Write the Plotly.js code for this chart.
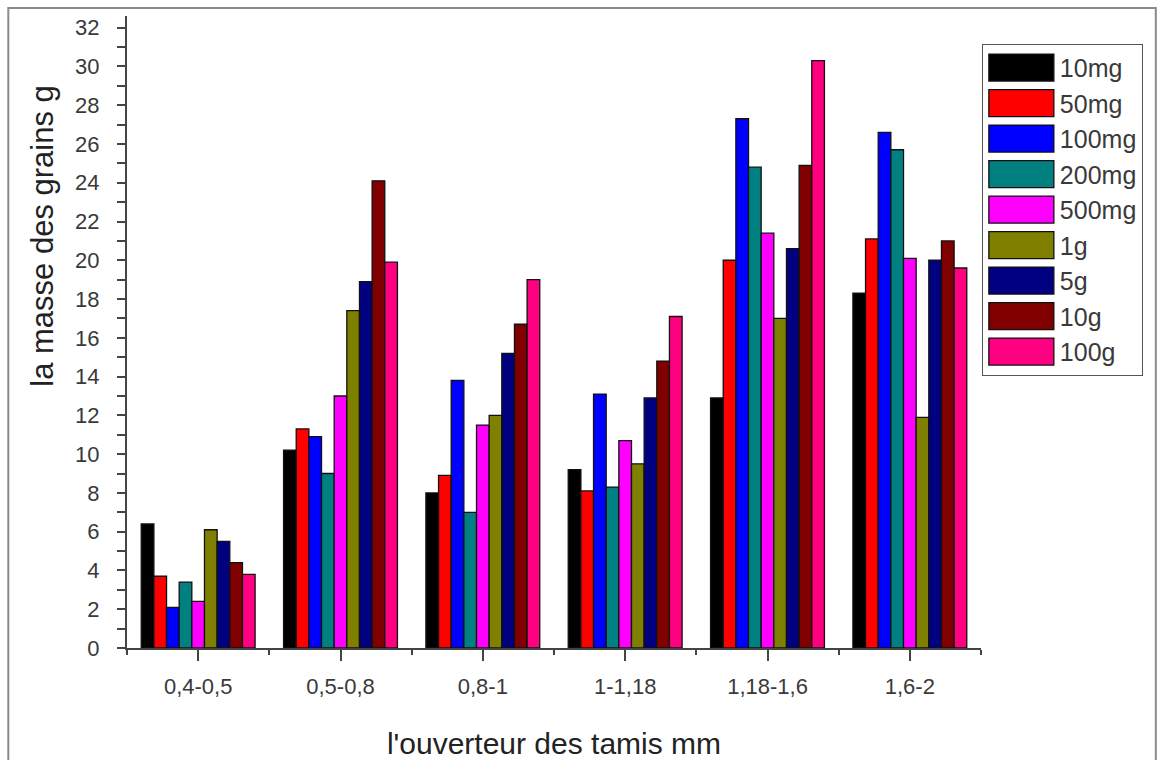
<!DOCTYPE html>
<html>
<head>
<meta charset="utf-8">
<script src="https://cdn.plot.ly/plotly-3.0.1.min.js"></script>
<style>
  html, body { margin: 0; padding: 0; background: #ffffff; }
  #chart { width: 1161px; height: 760px; }
</style>
</head>
<body>
<div id="chart"></div>
<script>
// ---- Data ----
var categories = ["0,4-0,5", "0,5-0,8", "0,8-1", "1-1,18", "1,18-1,6", "1,6-2"];
var seriesNames = ["10mg", "50mg", "100mg", "200mg", "500mg", "1g", "5g", "10g", "100g"];
var seriesColors = ["#000000", "#FF0000", "#0000FF", "#008080", "#FF00FF", "#808000", "#000080", "#800000", "#FF0080"];

var v10mg  = [6.4, 10.2, 8.0, 9.2, 12.9, 18.3];
var v50mg  = [3.7, 11.3, 8.9, 8.1, 20.0, 21.1];
var v100mg = [2.1, 10.9, 13.8, 13.1, 27.3, 26.6];
var v200mg = [3.4, 9.0, 7.0, 8.3, 24.8, 25.7];
var v500mg = [2.4, 13.0, 11.5, 10.7, 21.4, 20.1];
var v1g    = [6.1, 17.4, 12.0, 9.5, 17.0, 11.9];
var v5g    = [5.5, 18.9, 15.2, 12.9, 20.6, 20.0];
var v10g   = [4.4, 24.1, 16.7, 14.8, 24.9, 21.0];
var v100g  = [3.8, 19.9, 19.0, 17.1, 30.3, 19.6];

var seriesValues = [v10mg, v50mg, v100mg, v200mg, v500mg, v1g, v5g, v10g, v100g];

var xTitle = "l'ouverteur des tamis mm";
var yTitle = "la masse des grains g";

// ---- Build traces ----
var xIdx = categories.map(function (c, i) { return i; });
var traces = seriesNames.map(function (name, k) {
  return {
    type: "bar",
    name: name,
    x: xIdx,
    y: seriesValues[k],
    marker: { color: seriesColors[k], line: { color: "#111111", width: 1.3 } },
    hoverinfo: "name+y"
  };
});

var axisColor = "#444444";
var textColor = "#3a3a3a";
var fontFam = "Arial, 'Liberation Sans', sans-serif";

var layout = {
  width: 1161,
  height: 760,
  margin: { l: 127, r: 180, t: 16, b: 112, pad: 0 },
  paper_bgcolor: "#ffffff",
  plot_bgcolor: "#ffffff",
  barmode: "group",
  bargap: 0.2,
  bargroupgap: 0,
  font: { family: fontFam, color: textColor },
  showlegend: true,
  legend: {
    x: 1.001, xanchor: "left",
    y: 0.956, yanchor: "top",
    bgcolor: "#ffffff",
    bordercolor: "#555555",
    borderwidth: 1,
    font: { family: fontFam, size: 25, color: textColor },
    itemwidth: 67,
    traceorder: "normal",
    itemclick: false,
    itemdoubleclick: false
  },
  xaxis: {
    range: [-0.5, 5.5],
    tickmode: "array",
    tickvals: xIdx,
    ticktext: categories,
    showgrid: false,
    zeroline: false,
    showline: true,
    linecolor: axisColor,
    linewidth: 2,
    ticks: "outside",
    ticklen: 11,
    tickwidth: 2,
    tickcolor: axisColor,
    ticklabelstandoff: 7,
    tickfont: { family: fontFam, size: 22, color: textColor },
    minor: { tickmode: "linear", tick0: 0.5, dtick: 1, ticks: "outside", ticklen: 5, tickwidth: 2, tickcolor: axisColor, showgrid: false },
    title: { text: xTitle, font: { family: fontFam, size: 30, color: "#222222" }, standoff: 40 },
    fixedrange: true
  },
  yaxis: {
    range: [0, 32.6],
    tickmode: "linear",
    tick0: 0,
    dtick: 2,
    showgrid: false,
    zeroline: false,
    showline: true,
    linecolor: axisColor,
    linewidth: 2,
    ticks: "outside",
    ticklen: 8,
    tickwidth: 2,
    tickcolor: axisColor,
    ticklabelstandoff: 13,
    tickfont: { family: fontFam, size: 22, color: textColor },
    minor: { tickmode: "linear", tick0: 0, dtick: 1, ticks: "outside", ticklen: 8, tickwidth: 2, tickcolor: axisColor, showgrid: false },
    fixedrange: true
  },
  annotations: [
    {
      text: yTitle,
      xref: "paper", yref: "paper",
      x: -0.099, y: 0.653,
      xanchor: "center", yanchor: "middle",
      textangle: -90,
      showarrow: false,
      font: { family: fontFam, size: 31, color: "#222222" }
    }
  ],
  shapes: [
    {
      type: "path", xref: "paper", yref: "paper",
      path: "M -0.139 -0.3 L -0.139 1.0126 L 1.2047 1.0126 L 1.2047 -0.3",
      line: { color: "#8a8a8a", width: 2 }
    }
  ]
};

Plotly.newPlot("chart", traces, layout, { displayModeBar: false }).then(function () {
  // enlarge the legend swatches to the wide rectangles of the reference
  var paths = document.querySelectorAll("#chart .legend .legendpoints path");
  paths.forEach(function (p) {
    p.setAttribute("transform", "translate(38.5,0) scale(" + (65 / 12) + "," + (27 / 12) + ")");
    p.setAttribute("vector-effect", "non-scaling-stroke");
  });
});
</script>
</body>
</html>
